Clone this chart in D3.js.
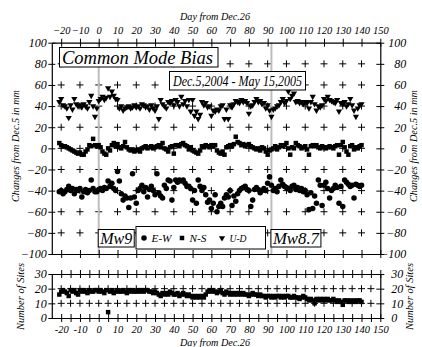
<!DOCTYPE html>
<html><head><meta charset="utf-8">
<script src="https://cdn.jsdelivr.net/npm/d3@7"></script>
<style>
body{margin:0;background:#fff}
svg{display:block}
</style>
</head><body><svg id="c" width="422" height="347" font-family="'Liberation Serif','Times New Roman',serif" font-style="italic"></svg>
<script>
// ---------------- data ----------------
const firstDay = -21; // Dec.5, 2004 relative to Dec.26
const udValues = [44,47,41,40,38,29,41,37,47,42,40,41,39,42,40,38,44,50,40,30,38,
 45,47,49,46,48,57,49,54,50,47,46,38,40,36,38,39,40,38,39,41,39,40,38,42,41,39,40,37,41,38,36,40,28,46,42,40,38,44,43,45,41,46,44,40,49,42,45,40,46,35,46,31,35,28,32,44,41,43,39,40,31,36,35,37,36,40,41,28,37,28,41,39,42,45,44,43,46,44,45,43,33,40,41,44,47,44,45,42,43,38,41,36,30,37,38,40,41,44,47,43,45,54,47,50,52,44,45,43,44,42,44,43,38,44,49,42,36,40,39,41,47,45,49,46,45,44,43,46,35,43,42,44,40,42,47,41,36,30,38,41,42];
const nsValues = [5,3,2,2,1,0,-1,-2,-3,-4,-5,-4,-6,-6,-3,-1,3,2,9,3,2,
 3,1,-3,-5,-6,0,-2,3,5,2,4,1,0,2,6,1,-1,-2,-1,-3,-2,-1,-3,0,1,2,0,1,2,0,1,2,3,1,5,0,-1,-3,1,2,-5,3,3,2,4,5,3,2,-1,1,-2,-3,-4,-5,-2,2,1,3,2,1,3,2,3,-2,-4,-5,-3,-6,1,2,3,2,4,11,6,5,3,4,2,3,4,2,1,0,-1,0,-2,1,0,-3,-6,-2,-1,0,2,-1,1,3,2,3,5,0,-6,1,0,5,3,2,0,1,2,-1,-6,2,3,2,3,1,0,2,1,0,1,2,1,0,2,3,-6,3,6,1,-3,-6,2,3,-1,1,0,2,3];
const ewValues = [-41,-40,-43,-41,-39,-36,-40,-38,-43,-39,-40,-38,-46,-41,-39,-42,-40,-30,-38,-41,-41,
 -39,-38,-40,-37,-38,-31,-36,-33,-38,-40,-22,-31,-43,-49,-45,-47,-56,-47,-24,-46,-52,-40,-38,-35,-41,-37,-46,-39,-36,-40,-44,-24,-42,-45,-47,-35,-38,-30,-31,-49,-37,-30,-32,-30,-31,-30,-33,-36,-36,-38,-49,-40,-52,-30,-36,-40,-37,-44,-51,-49,-57,-52,-44,-60,-55,-52,-55,-47,-44,-46,-40,-54,-45,-50,-43,-40,-38,-37,-36,-39,-40,-55,-49,-39,-37,-39,-42,-40,-38,-40,-33,-27,-35,-40,-38,-41,-36,-30,-34,-36,-37,-38,-40,-36,-35,-39,-37,-40,-38,-41,-40,-44,-58,-42,-57,-45,-52,-30,-35,-54,-35,-32,-38,-47,-40,-38,-35,-37,-52,-36,-55,-30,-32,-34,-36,-35,-47,-34,-35,-36,-35];
const siteCounts = [16,18,19,18,17,15,19,18,19,17,16,19,18,19,18,17,19,18,18,19,19,
 18,19,18,17,19,4,18,19,17,18,19,18,18,19,18,17,19,18,19,18,18,19,18,19,18,19,19,18,18,17,18,17,16,15,17,16,17,16,18,17,16,16,17,15,16,17,16,15,16,15,14,15,14,15,14,15,14,16,18,19,18,19,18,17,18,19,17,16,18,17,16,17,16,17,16,17,16,17,16,16,15,16,17,16,16,15,16,15,15,14,15,15,14,15,14,15,15,14,15,14,15,15,14,14,15,14,14,13,14,15,14,13,12,13,12,10,13,12,13,12,13,12,13,12,12,13,12,11,12,11,9,12,12,11,12,11,12,11,12,12,11];
const xTickLabels = [-20,-10,0,10,20,30,40,50,60,70,80,90,100,110,120,130,140,150];
const xMinorTicks = [-20,-15,-10,-5,0,5,10,15,20,25,30,35,40,45,50,55,60,65,70,75,80,85,90,95,100,105,110,115,120,125,130,135,140,145,150];
const yTicksTop = [-100,-80,-60,-40,-20,0,20,40,60,80,100];
const yTicksBottom = [0,10,20,30];
const gridDaysTop = [-20,-10,0,10,20,30,40,50,60,70,80,90,100,110,120,130,140];
const gridValsTop = [-80,-60,-40,-20,0,20,40,60,80];
const gridDaysBottom = [-20,-15,-10,-5,0,5,10,15,20,25,30,35,40,45,50,55,60,65,70,75,80,85,90,95,100,105,110,115,120,125,130,135,140,145];
const gridValsBottom = [10,20];
const eventDays = [0,92];
const eventLabels = ["Mw9","Mw8.7"];
const legendLabels = ["E-W","N-S","U-D"];
const titleText = "Common Mode Bias";
const periodText = "Dec.5,2004 - May 15,2005";
const xTitle = "Day from Dec.26";
const yTitleTop = "Changes from Dec.5 in mm";
const yTitleBottom = "Number of Sites";

// ---------------- scales ----------------
const svg = d3.select("#c");
const x = d3.scaleLinear().domain([-25,150]).range([51.8,380.3]);
const yT = d3.scaleLinear().domain([-100,100]).range([254,42.7]);
const yB = d3.scaleLinear().domain([0,30]).range([318,274]);
const dayOf = i => firstDay + i;

const symCircle = d3.symbol(d3.symbolCircle, 24)();
const symSquare = d3.symbol(d3.symbolSquare, 20)();
const symTri = d3.symbol(d3.symbolTriangle, 17)();

const FONT = "'Liberation Serif','Times New Roman',serif";
function txt(sel){ return sel.attr("font-family",FONT).attr("font-style","italic").attr("fill","#000"); }

// ---------------- grid crosses ----------------
function crosses(g, days, vals, y){
  const pts = [];
  days.forEach(d => vals.forEach(v => pts.push([d,v])));
  g.selectAll("path.cross").data(pts).join("path")
    .attr("class","cross")
    .attr("d", p => `M${x(p[0])-3.5},${y(p[1])}h7M${x(p[0])},${y(p[1])-3.5}v7`)
    .attr("stroke","#000").attr("stroke-width",1).attr("fill","none");
}
crosses(svg.append("g"), gridDaysTop, gridValsTop, yT);
crosses(svg.append("g"), gridDaysBottom, gridValsBottom, yB);

// event lines
svg.append("g").selectAll("line").data(eventDays).join("line")
  .attr("x1", d => x(d)).attr("x2", d => x(d))
  .attr("y1", yT(100)).attr("y2", yT(-100))
  .attr("stroke","#bdbdbd").attr("stroke-width",2);

// ---------------- data points ----------------
svg.append("g").selectAll("path").data(udValues).join("path")
  .attr("d", symTri)
  .attr("transform",(v,i)=>`translate(${x(dayOf(i))},${yT(v)}) rotate(180)`)
  .attr("fill","#000");
svg.append("g").selectAll("path").data(nsValues).join("path")
  .attr("d", symSquare)
  .attr("transform",(v,i)=>`translate(${x(dayOf(i))},${yT(v)})`)
  .attr("fill","#000");
svg.append("g").selectAll("path").data(ewValues).join("path")
  .attr("d", symCircle)
  .attr("transform",(v,i)=>`translate(${x(dayOf(i))},${yT(v)})`)
  .attr("fill","#000");
svg.append("g").selectAll("path").data(siteCounts).join("path")
  .attr("d", symSquare)
  .attr("transform",(v,i)=>`translate(${x(dayOf(i))},${yB(v)})`)
  .attr("fill","#000");

// ---------------- axes ----------------
function styleAxis(g, orient, size, fs){
  g.attr("font-family",FONT).attr("font-size",fs);
  g.select(".domain").attr("stroke","#000").attr("stroke-width",1.2);
  g.selectAll(".tick line").attr("stroke","#000").attr("stroke-width",1);
  if (orient==="h") g.selectAll(".tick line").attr("y1",-size).attr("y2",size);
  else g.selectAll(".tick line").attr("x1",-size).attr("x2",size);
  txt(g.selectAll(".tick text")).attr("font-size",fs);
}
const XFS = 10.5, YFS = 12;
let g;
g = svg.append("g").attr("transform",`translate(0,${yT(100)})`)
  .call(d3.axisTop(x).tickValues(xTickLabels).tickSize(4).tickSizeOuter(0).tickPadding(4.5));
styleAxis(g,"h",4,XFS);
g = svg.append("g").attr("transform",`translate(0,${yT(-100)})`)
  .call(d3.axisBottom(x).tickValues(xTickLabels).tickFormat("").tickSize(4).tickSizeOuter(0));
styleAxis(g,"h",4,XFS);
g = svg.append("g").attr("transform",`translate(${x(-25)},0)`)
  .call(d3.axisLeft(yT).tickValues(yTicksTop).tickSize(3.5).tickSizeOuter(0).tickPadding(1.5));
styleAxis(g,"v",3.5,YFS);
g = svg.append("g").attr("transform",`translate(${x(150)},0)`)
  .call(d3.axisRight(yT).tickValues(yTicksTop).tickSize(4).tickSizeOuter(0).tickPadding(0));
styleAxis(g,"v",4,YFS);
g.selectAll(".tick text").attr("text-anchor","end").attr("x",26);
g = svg.append("g").attr("transform",`translate(0,${yB(30)})`)
  .call(d3.axisTop(x).tickValues(xMinorTicks).tickFormat("").tickSize(4).tickSizeOuter(0));
styleAxis(g,"h",4,XFS);
g = svg.append("g").attr("transform",`translate(0,${yB(0)})`)
  .call(d3.axisBottom(x).tickValues(xMinorTicks).tickFormat(d => d%10===0 ? d : "").tickSize(4).tickSizeOuter(0).tickPadding(3.5));
styleAxis(g,"h",4,XFS);
g = svg.append("g").attr("transform",`translate(${x(-25)},0)`)
  .call(d3.axisLeft(yB).tickValues(yTicksBottom).tickSize(3.5).tickSizeOuter(0).tickPadding(1.5));
styleAxis(g,"v",3.5,YFS);
g = svg.append("g").attr("transform",`translate(${x(150)},0)`)
  .call(d3.axisRight(yB).tickValues(yTicksBottom).tickSize(4).tickSizeOuter(0).tickPadding(7));
styleAxis(g,"v",4,YFS);

// axis titles
function label(xp, yp, s, size, len, rot){
  const t = txt(svg.append("text")).attr("text-anchor","middle").attr("font-size",size)
    .attr("textLength",len).attr("lengthAdjust","spacingAndGlyphs").text(s);
  if (rot) t.attr("transform",`translate(${xp},${yp}) rotate(-90)`);
  else t.attr("x",xp).attr("y",yp);
  return t;
}
label(215,20,xTitle,11,70);
label(215,346,xTitle,11,70);
label(19,146,yTitleTop,11,112,true);
label(417,146,yTitleTop,11,112,true);
label(24,296.5,yTitleBottom,11,67,true);
label(413,296.5,yTitleBottom,11,67,true);

// ---------------- boxes ----------------
function box(x0,y0,w,h){
  svg.append("rect").attr("x",x0).attr("y",y0).attr("width",w).attr("height",h)
    .attr("fill","#fff").attr("stroke","#000").attr("stroke-width",1);
}
box(59.5,47.5,158.5,19.5);
txt(svg.append("text")).attr("x",62).attr("y",63.5).attr("font-size",19)
  .attr("textLength",151).attr("lengthAdjust","spacingAndGlyphs").text(titleText);
box(169.5,71.5,136,18.5);
txt(svg.append("text")).attr("x",173).attr("y",85.5).attr("font-size",14)
  .attr("textLength",129).attr("lengthAdjust","spacingAndGlyphs").text(periodText);

// event labels
const evBoxW = [36,50];
const evTextW = [32,46];
eventDays.forEach((d,i)=>{
  box(x(d)-0.5,229.5,evBoxW[i],17.5);
  txt(svg.append("text")).attr("x",x(d)+evBoxW[i]/2-0.5).attr("y",244).attr("text-anchor","middle")
    .attr("font-size",16.5).attr("textLength",evTextW[i]).attr("lengthAdjust","spacingAndGlyphs").text(eventLabels[i]);
});
// legend
box(136,226.5,129.5,22.5);
const legX = [144,182,222];
const legW = [20,17,17];
const legSym = [symCircle, symSquare, symTri];
legendLabels.forEach((lab,i)=>{
  svg.append("path").attr("d",legSym[i])
    .attr("transform",`translate(${legX[i]},238)${i===2?" rotate(180)":""}`).attr("fill","#000");
  txt(svg.append("text")).attr("x",legX[i]+7.5).attr("y",242).attr("font-size",11)
    .attr("textLength",legW[i]).attr("lengthAdjust","spacingAndGlyphs").text(lab);
});
</script>
</body></html>
